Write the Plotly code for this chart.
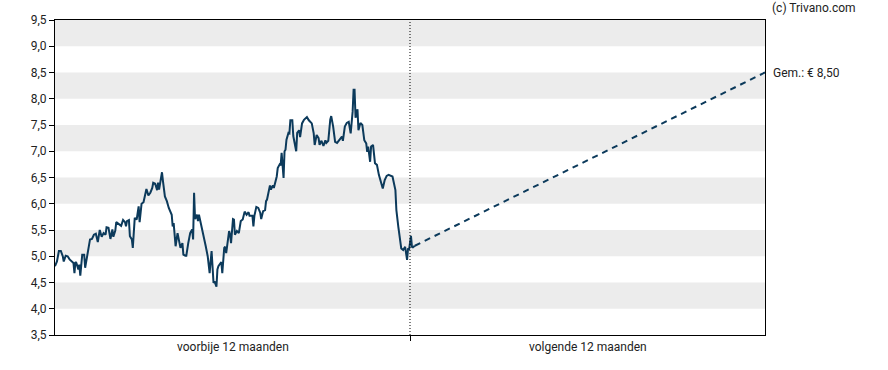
import plotly.graph_objects as go

# Past 12 months: day offsets (0 = start of period, 365 = today) and prices (EUR)
past_days = [0, 2, 4, 6, 8, 9, 11, 13, 15, 17, 19, 20, 21, 22, 24, 25, 26, 28, 30, 31,
             33, 34, 36, 38, 40, 42, 44, 46, 48, 50, 52, 53, 55, 57, 59, 60, 62, 63, 65, 68,
             70, 72, 73, 74, 76, 77, 79, 80, 82, 84, 86, 87, 89, 91, 94, 96, 98, 100, 101, 103,
             105, 106, 107, 109, 110, 111, 113, 115, 117, 120, 121, 122, 124, 126, 128, 129, 131, 132, 134, 135,
             137, 139, 141, 142, 143, 144, 146, 147, 148, 150, 151, 153, 155, 157, 159, 160, 161, 163, 164, 166,
             167, 168, 170, 171, 172, 174, 175, 176, 179, 180, 181, 183, 184, 185, 187, 189, 191, 193, 195, 197,
             199, 200, 203, 204, 205, 207, 209, 211, 212, 214, 216, 217, 218, 220, 221, 222, 224, 225, 226, 228,
             229, 231, 232, 233, 235, 236, 237, 238, 240, 241, 242, 244, 245, 246, 248, 249, 251, 252,
             254, 256, 259, 261, 264, 266, 267, 269, 271, 272, 274, 276, 278, 279, 281, 283, 284, 286, 288, 290,
             292, 295, 296, 298, 300, 302, 304, 306, 307, 308, 309, 311, 312, 314, 316, 318, 320, 321, 322, 324,
             325, 327, 329, 331, 333, 335, 337, 339, 341, 343, 345, 347, 350, 351, 353, 355, 356, 358, 360, 362,
             363, 364, 366, 367, 368, 370]
past_prices = [4.81, 4.90, 5.10, 5.10, 5.00, 4.90, 5.01, 5.00, 4.94, 4.90, 4.87, 4.68, 4.89, 4.87, 4.75, 4.84, 4.63, 5.03, 5.03, 4.78,
               5.01, 5.13, 5.32, 5.33, 5.41, 5.43, 5.27, 5.50, 5.37, 5.44, 5.41, 5.55, 5.54, 5.33, 5.51, 5.37, 5.49, 5.65, 5.62, 5.58,
               5.69, 5.65, 5.57, 5.67, 5.69, 5.38, 5.32, 5.16, 5.73, 5.70, 5.95, 5.65, 6.00, 6.03, 6.28, 6.16, 6.21, 6.30, 6.40, 6.38,
               6.26, 6.40, 6.27, 6.52, 6.60, 6.43, 6.14, 6.05, 5.92, 5.79, 5.57, 5.63, 5.19, 5.44, 5.25, 5.16, 5.25, 5.03, 5.01, 5.01,
               5.25, 5.44, 5.51, 5.32, 6.21, 5.71, 5.79, 5.67, 5.79, 5.63, 5.57, 5.35, 5.19, 5.00, 4.68, 4.90, 5.10, 4.49, 4.52, 4.42,
               4.75, 4.81, 4.87, 4.89, 4.68, 5.16, 5.18, 5.06, 5.48, 5.41, 5.25, 5.71, 5.70, 5.41, 5.48, 5.44, 5.67, 5.70, 5.85, 5.79,
               5.84, 5.77, 5.77, 5.57, 5.77, 5.94, 5.92, 5.83, 5.71, 5.86, 5.88, 6.05, 6.08, 6.24, 6.35, 6.27, 6.35, 6.30, 6.37, 6.52,
               6.68, 6.75, 6.73, 6.97, 6.49, 7.00, 7.03, 7.22, 7.35, 7.34, 7.59, 7.59, 7.29, 7.16, 7.00, 7.35, 7.40, 7.27,
               7.53, 7.60, 7.65, 7.59, 7.53, 7.34, 7.12, 7.31, 7.25, 7.12, 7.20, 7.10, 7.21, 7.16, 7.20, 7.60, 7.67, 7.47, 7.18, 7.16,
               7.21, 7.28, 7.20, 7.47, 7.54, 7.56, 7.34, 7.75, 8.17, 8.17, 7.64, 7.80, 7.40, 7.54, 7.50, 7.21, 7.15, 6.99, 7.09, 6.80,
               7.09, 7.12, 6.77, 6.74, 6.55, 6.39, 6.29, 6.45, 6.53, 6.55, 6.53, 6.52, 6.26, 5.88, 5.56, 5.31, 5.15, 5.12, 5.18, 4.93,
               5.15, 5.12, 5.39, 5.18, 5.17, 5.20]

today_day = 365
end_day = 730
target_price = 8.50

period_labels = ["voorbije 12 maanden", "volgende 12 maanden"]
y_ticks = [3.5, 4.0, 4.5, 5.0, 5.5, 6.0, 6.5, 7.0, 7.5, 8.0, 8.5, 9.0, 9.5]
band_ranges = [(4.0, 4.5), (5.0, 5.5), (6.0, 6.5), (7.0, 7.5), (8.0, 8.5), (9.0, 9.5)]

line_color = "#0c3a5b"
font_family = "Roboto, Arial, sans-serif"

fig = go.Figure()

# Background bands
for lo, hi in band_ranges:
    fig.add_shape(type="rect", xref="paper", yref="y", x0=0, x1=1, y0=lo, y1=hi,
                  fillcolor="#ececec", line_width=0, layer="below")

# Today divider
fig.add_shape(type="line", xref="x", yref="paper", x0=today_day, x1=today_day, y0=0, y1=1,
              line=dict(color="#000000", width=1, dash="1px,2px"))

fig.add_trace(go.Scatter(x=past_days, y=past_prices, mode="lines",
                         line=dict(color=line_color, width=2), hoverinfo="skip"))

fig.add_trace(go.Scatter(x=[past_days[-1], end_day], y=[past_prices[-1], target_price], mode="lines",
                         line=dict(color=line_color, width=2, dash="6px,5px"), hoverinfo="skip"))

fig.add_annotation(x=1.0, xref="paper", y=target_price, yref="y", xanchor="left", yanchor="middle",
                   xshift=6, text="Gem.: € 8,50", showarrow=False,
                   font=dict(family=font_family, size=12, color="#222222"))
fig.add_annotation(x=1.0, xref="paper", y=1.0, yref="paper", xanchor="left", yanchor="bottom",
                   xshift=5, yshift=3, text="(c) Trivano.com", showarrow=False,
                   font=dict(family=font_family, size=12, color="#222222"))

for cx, lab in zip([today_day / 2, (today_day + end_day) / 2], period_labels):
    fig.add_annotation(x=cx, xref="x", y=0, yref="paper", yanchor="top", yshift=-3,
                       text=lab, showarrow=False,
                       font=dict(family=font_family, size=12, color="#222222"))

fig.update_layout(
    width=888, height=370,
    margin=dict(l=55, r=123, t=20, b=35, autoexpand=False),
    paper_bgcolor="white", plot_bgcolor="white",
    showlegend=False,
    separators=",.",
    font=dict(family=font_family, size=12, color="#222222"),
    xaxis=dict(range=[0, end_day], tickvals=[today_day], ticktext=[""], ticks="outside",
               ticklen=5, tickcolor="#000", showgrid=False, zeroline=False, automargin=False,
               showline=True, linecolor="#000", linewidth=1, mirror=True, fixedrange=True),
    yaxis=dict(range=[3.5, 9.5], tickvals=y_ticks, tickformat=".1f", ticks="outside",
               ticklen=5, tickcolor="#000", showgrid=False, zeroline=False, automargin=False,
               showline=True, linecolor="#000", linewidth=1, mirror=True, fixedrange=True,
               tickfont=dict(family=font_family, size=12, color="#222222")),
)

fig.write_html("out.html",
               config={"displayModeBar": False, "staticPlot": True},
               post_script="document.body.style.margin='0';document.body.style.overflow='hidden';")
